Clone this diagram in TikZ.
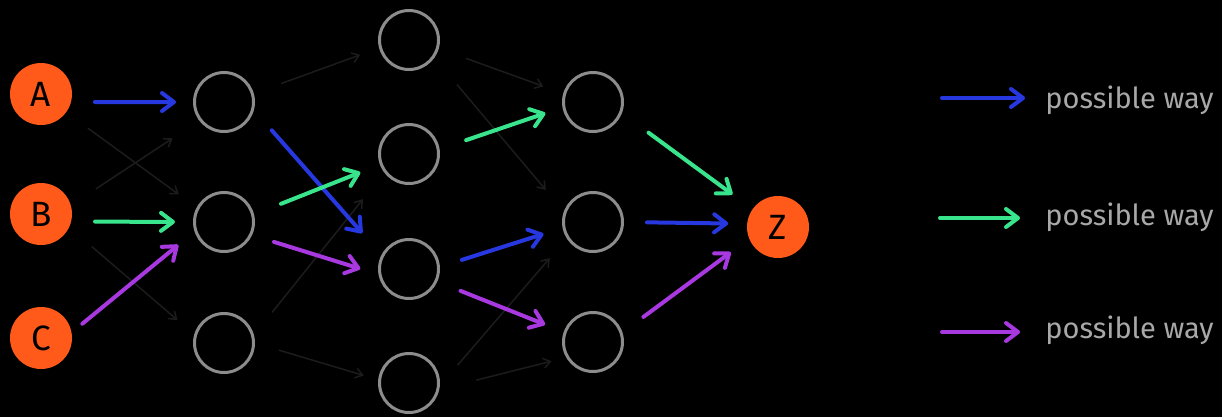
\documentclass[tikz,border=0pt]{standalone}
\usepackage{fontspec}
\setmainfont{Fira Sans}
\usetikzlibrary{arrows.meta}
\definecolor{orng}{HTML}{FF5A1A}
\definecolor{ringg}{HTML}{8C8C8C}
\definecolor{pblue}{HTML}{2838E0}
\definecolor{pgreen}{HTML}{38E48C}
\definecolor{ppurp}{HTML}{A838E0}
\definecolor{faint}{HTML}{1C1C1C}
\definecolor{txtg}{HTML}{A8A8A8}
\begin{document}
\begin{tikzpicture}[x=0.02cm,y=-0.02cm,
  endpt/.style={circle, fill=orng, minimum size=1.24cm, inner sep=0pt, outer sep=0pt, font=\fontsize{20}{20}\selectfont, text=black},
  ring/.style={circle, draw=ringg, line width=0.06cm, minimum size=1.18cm, inner sep=0pt},
  way/.style={line width=0.08cm, line cap=round, -{Straight Barb[length=0.24cm,width=0.36cm,line cap=round,line join=round]}},
  weak/.style={draw=faint, line width=0.03cm, -{Straight Barb[length=0.14cm,width=0.2cm]}},
  gaps/.style 2 args={shorten <=#1*0.02cm, shorten >=#2*0.02cm},
  lbl/.style={text=txtg, font=\fontsize{16.5}{17}\selectfont, inner sep=0pt, anchor=base west}
]
\fill[black] (0,0) rectangle (1222,417);
\useasboundingbox (0,0) rectangle (1222,417);

% input nodes
\node[endpt] (A) at (41,94) {A};
\node[endpt] (B) at (41,214) {B};
\node[endpt] (C) at (41,338) {C};
% layer 1
\node[ring] (L1a) at (224,102) {};
\node[ring] (L1b) at (224,222) {};
\node[ring] (L1c) at (224,343) {};
% layer 2
\node[ring] (L2a) at (409,40) {};
\node[ring] (L2b) at (409,154) {};
\node[ring] (L2c) at (409,269) {};
\node[ring] (L2d) at (409,383) {};
% layer 3
\node[ring] (L3a) at (593,102) {};
\node[ring] (L3b) at (593,222) {};
\node[ring] (L3c) at (593,342) {};
% output
\node[endpt] (Z) at (778,227) {Z};

% faint connections
\draw[weak, gaps={27}{22}] (A.-36) -- (L1b.152);
\draw[weak, gaps={30}{32}] (B.16) -- (L1a.217);
\draw[weak, gaps={30}{22}] (B.-25) -- (L1c.164);
\draw[weak, gaps={29}{20}] (L1a.16) -- (L2a.195);
\draw[weak, gaps={29}{34}] (L1c.15) -- (L2b.217);
\draw[weak, gaps={25}{15}] (L1c.0) -- (L2d.174);
\draw[weak, gaps={29}{21}] (L2a.-16) -- (L3a.164);
\draw[weak, gaps={35}{28}] (L2a.-35) -- (L3b.160);
\draw[weak, gaps={27}{26}] (L2d.-5) -- (L3b.212);
\draw[weak, gaps={38}{15}] (L2d.-12) -- (L3c.210);

% blue path
\draw[way, pblue, gaps={24}{17}] (A.-15) -- (L1a.180);
\draw[way, pblue, gaps={27}{29}] (L1a.-15) -- (L2c.153);
\draw[way, pblue, gaps={23}{20}] (L2c.4) -- (L3b.191);
\draw[way, pblue, gaps={23}{19}] (L3b.0) -- (Z.174);
% green path
\draw[way, pgreen, gaps={24}{18}] (B.-14) -- (L1b.180);
\draw[way, pgreen, gaps={29}{21}] (L1b.14) -- (L2b.200);
\draw[way, pgreen, gaps={28}{18}] (L2b.9) -- (L3a.190);
\draw[way, pgreen, gaps={33}{25}] (L3a.-21) -- (Z.145);
% purple path
\draw[way, ppurp, gaps={14}{21}] (C.10) -- (L1b.198);
\draw[way, ppurp, gaps={23}{19}] (L1b.-25) -- (L2c.190);
\draw[way, ppurp, gaps={25}{20}] (L2c.-24) -- (L3c.161);
\draw[way, ppurp, gaps={26}{23}] (L3c.18) -- (Z.202);

% legend
\node[lbl] (t1) at (1045,108) {possible way};
\node[lbl] (t2) at (1045,225) {possible way};
\node[lbl] (t3) at (1045,338) {possible way};
\coordinate (s1) at (942,98);
\coordinate (s2) at (940,218);
\coordinate (s3) at (942,332);
\draw[way, pblue, gaps={0}{20}] (s1) -- (s1 -| t1.west);
\draw[way, pgreen, gaps={0}{25}] (s2) -- (s2 -| t2.west);
\draw[way, ppurp, gaps={0}{25}] (s3) -- (s3 -| t3.west);
\end{tikzpicture}
\end{document}
